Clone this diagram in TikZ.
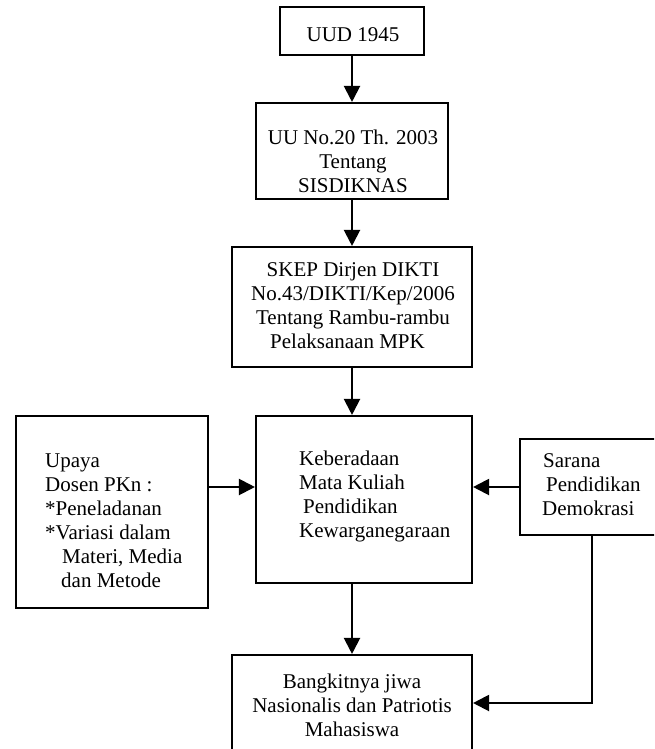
\documentclass[tikz,border=0pt]{standalone}
\usepackage{fontspec}
\setmainfont{Liberation Serif}
\usetikzlibrary{arrows.meta}
\begin{document}
\begin{tikzpicture}[x=1pt,y=-1pt,
  boxstyle/.style={draw,line width=2.1pt,inner sep=0pt},
  txt/.style={font=\fontsize{21}{24}\selectfont,inner sep=0pt},
  conn/.style={line width=2.1pt,-{Triangle[length=16pt,width=16pt]}}]
\useasboundingbox (0,0) rectangle (654,749);
\clip (0,0) rectangle (654,749);
% boxes
\node[boxstyle,minimum width=144pt,minimum height=48pt] (b1) at (352,31) {};
\node[boxstyle,minimum width=192pt,minimum height=96pt] (b2) at (352,151) {};
\node[boxstyle,minimum width=240pt,minimum height=120pt] (b3) at (352,307) {};
\node[boxstyle,minimum width=216pt,minimum height=167pt] (b4) at (364,499.5) {};
\node[boxstyle,minimum width=192pt,minimum height=192pt] (lb) at (112,512) {};
\node[boxstyle,minimum width=160pt,minimum height=96pt] (rb) at (600,487) {};
\node[boxstyle,minimum width=240pt,minimum height=120pt] (b5) at (352,715) {};
% texts
\node[txt] (t1) at (353,35) {UUD 1945};
\node[txt,align=center] (t2) at (353,161) {UU No.20 Th. 2003\\Tentang\\SISDIKNAS};
\node[txt,align=center] (t3) at (353,306) {SKEP Dirjen DIKTI\\No.43/DIKTI/Kep/2006\\Tentang Rambu-rambu\\Pelaksanaan MPK\kern11pt};
\node[txt,align=left,anchor=west] (t4) at (299,496) {Keberadaan\\Mata Kuliah\\\hspace*{4pt}Pendidikan\\Kewarganegaraan};
\node[txt,align=left,anchor=west] (tl) at (45,521) {Upaya\\Dosen PKn :\\*Peneladanan\\*Variasi dalam\\\hspace*{17pt}Materi, Media\\\hspace*{16pt}dan Metode};
\node[txt,align=left,anchor=west] (tr) at (542,485) {\hspace*{1pt}Sarana\\\hspace*{4pt}Pendidikan\\Demokrasi};
\node[txt,align=center] (t5) at (352,705) {Bangkitnya jiwa\\Nasionalis dan Patriotis\\Mahasiswa};
% connectors
\coordinate (ya) at (0,487);
\coordinate (xr) at (592,0);
\coordinate (yb) at (0,703);
\draw[conn] (b1.south) -- (b2.north);
\draw[conn] (b2.south) -- (b3.north);
\draw[conn] (b3.south) -- (b3.south |- b4.north);
\draw[conn] (b3.south |- b4.south) -- (b3.south |- b5.north);
\draw[conn] (lb.east |- ya) -- (b4.west |- ya);
\draw[conn] (rb.west |- ya) -- (b4.east |- ya);
\draw[conn] (xr |- rb.south) -- (xr |- yb) -- (b5.east |- yb);
\end{tikzpicture}
\end{document}
